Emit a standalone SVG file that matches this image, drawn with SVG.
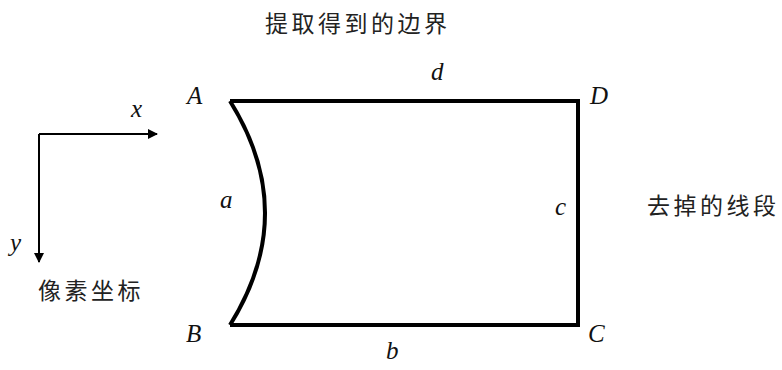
<svg xmlns="http://www.w3.org/2000/svg" width="782" height="370" viewBox="0 0 782 370">
<style>
.cn{font-family:"Noto Sans CJK SC","Liberation Serif",sans-serif;font-size:23px;letter-spacing:3.5px;fill:#222}
.lb{font-family:"Liberation Serif",serif;font-style:italic;font-size:25px;fill:#111}
.edge{fill:none;stroke:#000;stroke-width:4;stroke-linejoin:miter}
.axis{fill:none;stroke:#000;stroke-width:2}
</style>
<defs>
<marker id="ah" markerWidth="10" markerHeight="10" refX="9" refY="5" orient="auto" markerUnits="userSpaceOnUse" viewBox="0 0 10 10">
<path d="M0,0 L10,5 L0,10 Z" fill="#000"/>
</marker>
</defs>
<rect width="782" height="370" fill="#fff"/>
<g id="connectors">
<path class="axis" d="M39,134 L157,134" marker-end="url(#ah)"/>
<path class="axis" d="M39,134 L39,262" marker-end="url(#ah)"/>
</g>
<g id="boundary">
<path class="edge" d="M230,101 L578,101 L578,325 L230,325"/>
<path class="edge" d="M230,101 Q300,213 230,325"/>
</g>
<g id="labels">
<text class="lb" x="187" y="104">A</text>
<text class="lb" x="590" y="104">D</text>
<text class="lb" x="186" y="342">B</text>
<text class="lb" x="588" y="342">C</text>
<text class="lb" x="431" y="80">d</text>
<text class="lb" x="220" y="208">a</text>
<text class="lb" x="555" y="215">c</text>
<text class="lb" x="386" y="359">b</text>
<text class="lb" x="131" y="117">x</text>
<text class="lb" x="10" y="251">y</text>
</g>
<g id="title"><text class="cn" x="265" y="32">提取得到的边界</text></g>
<g id="removed"><text class="cn" x="647" y="214">去掉的线段</text></g>
<g id="pixel"><text class="cn" x="38" y="299">像素坐标</text></g>
</svg>
